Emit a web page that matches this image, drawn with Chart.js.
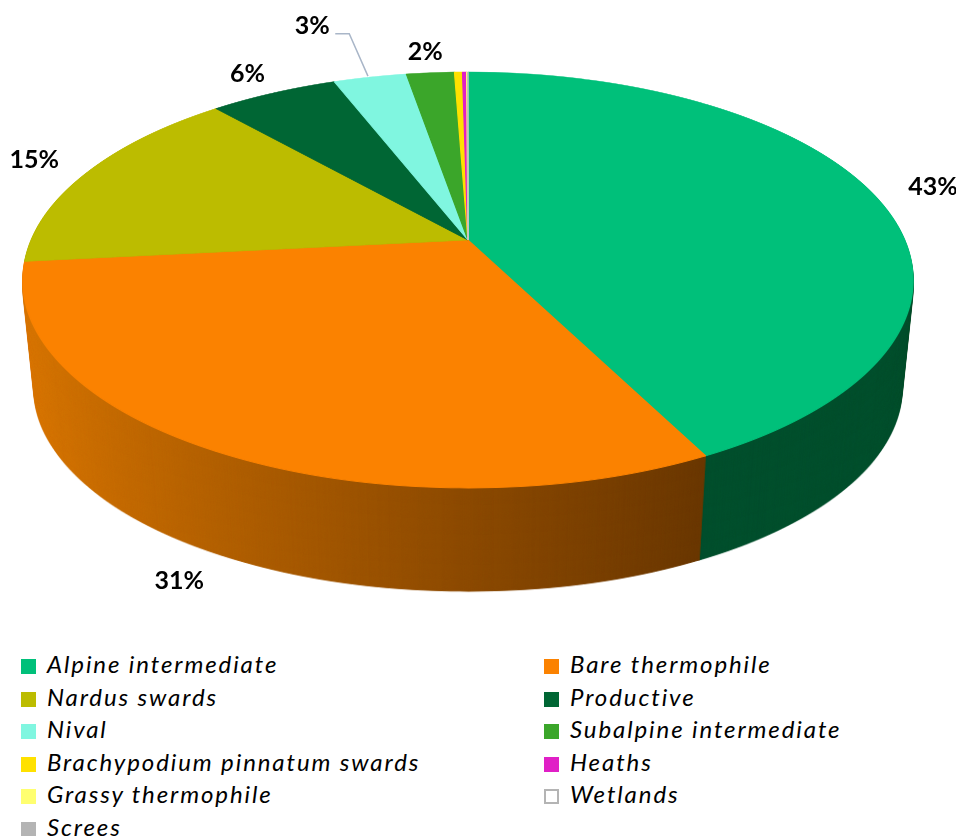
<!DOCTYPE html>
<html>
<head>
<meta charset="utf-8">
<script src="https://cdn.jsdelivr.net/npm/chart.js@4.4.1/dist/chart.umd.min.js"></script>
<style>
  body { margin: 0; background: #fff; width: 956px; height: 836px; overflow: hidden; position: relative; }
  #pie { position: absolute; left: 0; top: 0; }
  #legend { position: absolute; left: 0; top: 648px; width: 956px; font-family: Lato, sans-serif; font-style: italic; font-size: 24px; letter-spacing: 1.9px; color: #000; }
  .item { position: absolute; height: 32.5px; line-height: 32.5px; white-space: nowrap; }
  .box { display: inline-block; width: 15px; height: 15px; vertical-align: -1px; margin-right: 11px; box-sizing: border-box; }
</style>
</head>
<body>
<canvas id="pie" width="956" height="640"></canvas>
<div id="legend"></div>
<script>
// categories, in drawing order (clockwise from 12 o'clock)
const categories = ['Alpine intermediate', 'Bare thermophile', 'Nardus swards', 'Productive', 'Nival',
    'Subalpine intermediate', 'Brachypodium pinnatum swards', 'Heaths', 'Grassy thermophile', 'Wetlands', 'Screes'];

// share of the area, %
const shares = [42.6, 30.8, 15.2, 5.6, 3.2, 2.1, 0.35, 0.18, 0.04, 0.01, 0.01];

// top face colours
const topColors = ['#00c07a', '#fb8200', '#bcbc00', '#006634', '#80f6e0', '#3ba62a',
    '#ffe100', '#e01fc6', '#ffff70', '#ffffff', '#b4b4b4'];

// side wall colours
const sideColors = ['#00502e', '#8c4800', '#6e6e00', '#003a1d', '#4a9a8a', '#22641a',
    '#a08c00', '#8a1278', '#a0a040', '#c8c8c8', '#707070'];

//Perspective of the tilted disc (screen pixels)
const CX = 468, APEX_Y = 240, PA = 436.7, PB = 200.3, PE = -0.192;
//Vanishing point for the side wall
const VX = 468, VY = 4457, LAMBDA = 0.974, LAYERS = 110;

//Draw the chart's arcs as a tilted disc, one screen row at a time
function drawDisk(ctx, chart, fills)
{
    const arcs = chart.getDatasetMeta(0).data;
    if (!arcs.length) return;
    const ex = arcs[0].x, ey = arcs[0].y, R = arcs[0].outerRadius;

    for (let y = 66; y < 496; y++)
    {
        const ym = y + 0.5;
        const t = (ym - APEX_Y) / PB;
        const v = t / (1 - PE * t);
        if (v < -1.03 || v > 1.03) continue;
        const w = 1 + PE * v;
        const sx = PA / (w * R), sy = PB / (w * w * R);

        ctx.save();
        ctx.setTransform(1, 0, 0, 1, 0, 0);
        ctx.beginPath();
        ctx.rect(0, y, ctx.canvas.width, 1);
        ctx.clip();
        ctx.setTransform(sx, 0, 0, sy, CX - sx * ex, ym - sy * (ey + v * R));

        arcs.forEach((arc, i) => {
            const keep = arc.options;
            arc.options = Object.assign({}, keep, {backgroundColor: fills[i], borderColor: fills[i], borderWidth: 1});
            arc.draw(ctx);
            arc.options = keep;
        });
        ctx.restore();
    }
}

const pie3d = {
    id: 'pie3d',
    beforeDatasetsDraw(chart)
    {
        const ctx = chart.ctx;
        const arcs = chart.getDatasetMeta(0).data;
        const ex = arcs[0].x, R = arcs[0].outerRadius;

        //side wall: the disc in side colours, stacked toward the vanishing point
        const side = document.createElement('canvas');
        side.width = ctx.canvas.width;
        side.height = ctx.canvas.height;
        const sctx = side.getContext('2d');

        const bare = sctx.createLinearGradient(ex - R, 0, ex + R, 0);
        bare.addColorStop(0, '#dc7800');
        bare.addColorStop(0.5, '#8c4a00');
        bare.addColorStop(0.78, '#623300');
        bare.addColorStop(1, '#502800');
        const fills = sideColors.slice();
        fills[1] = bare;

        drawDisk(sctx, chart, fills);

        ctx.save();
        for (let i = LAYERS; i >= 1; i--)
        {
            const lam = 1 - (i / LAYERS) * (1 - LAMBDA);
            ctx.setTransform(lam, 0, 0, lam, VX * (1 - lam), VY * (1 - lam));
            ctx.drawImage(side, 0, 0);
        }
        ctx.restore();

        //top face
        drawDisk(ctx, chart, topColors);
        return false;
    },
    afterDraw(chart)
    {
        const ctx = chart.ctx;
        const arcs = chart.getDatasetMeta(0).data;
        const total = shares.reduce((a, b) => a + b, 0);

        ctx.save();
        ctx.font = 'bold 25px Lato';
        ctx.textAlign = 'center';
        ctx.textBaseline = 'middle';
        ctx.fillStyle = '#000';

        arcs.forEach((arc, i) => {
            const pct = Math.round(shares[i] / total * 100);
            if (pct < 1) return;

            const mid = (arc.startAngle + arc.endAngle) / 2;
            const u = Math.cos(mid), v = Math.sin(mid);

            //Nival label is pulled out with a leader line
            const k = (i == 4) ? 1.3 : 1.12;
            const w = 1 + PE * v * k;
            let lx = CX + PA * u * k / w;
            let ly = APEX_Y + PB * v * k / w + (v > 0 ? 112 * v : 0);

            if (i == 4)
            {
                lx -= 34;
                ly -= 12;
                const w0 = 1 + PE * v;
                ctx.strokeStyle = '#a9b6c8';
                ctx.lineWidth = 1.5;
                ctx.beginPath();
                ctx.moveTo(CX + PA * u / w0 - 2, APEX_Y + PB * v / w0 - 1);
                ctx.lineTo(lx + 37, ly + 8);
                ctx.lineTo(lx + 23, ly + 8);
                ctx.stroke();
            }
            else if (v < 0)
            {
                //upper labels sit a little further left
                lx += 12 * u;
                ly -= 4;
            }
            ctx.fillText(pct + '%', lx, ly);
        });
        ctx.restore();
    }
};

new Chart(document.getElementById('pie'), {
    type: 'pie',
    data: {
        labels: categories,
        datasets: [{
            data: shares,
            backgroundColor: topColors,
            borderWidth: 0
        }]
    },
    options: {
        responsive: false,
        animation: false,
        events: [],
        plugins: {
            legend: { display: false },
            tooltip: { enabled: false }
        }
    },
    plugins: [pie3d]
});

//Legend, two columns
const legend = document.getElementById('legend');
categories.forEach((name, i) => {
    const item = document.createElement('div');
    item.className = 'item';
    item.style.left = (i % 2 == 0 ? 21 : 544) + 'px';
    item.style.top = (Math.floor(i / 2) * 32.5) + 'px';

    const box = document.createElement('span');
    box.className = 'box';
    box.style.background = topColors[i];
    if (name == 'Wetlands') box.style.border = '2px solid #b4b4b4';

    item.appendChild(box);
    item.appendChild(document.createTextNode(name));
    legend.appendChild(item);
});
</script>
</body>
</html>
